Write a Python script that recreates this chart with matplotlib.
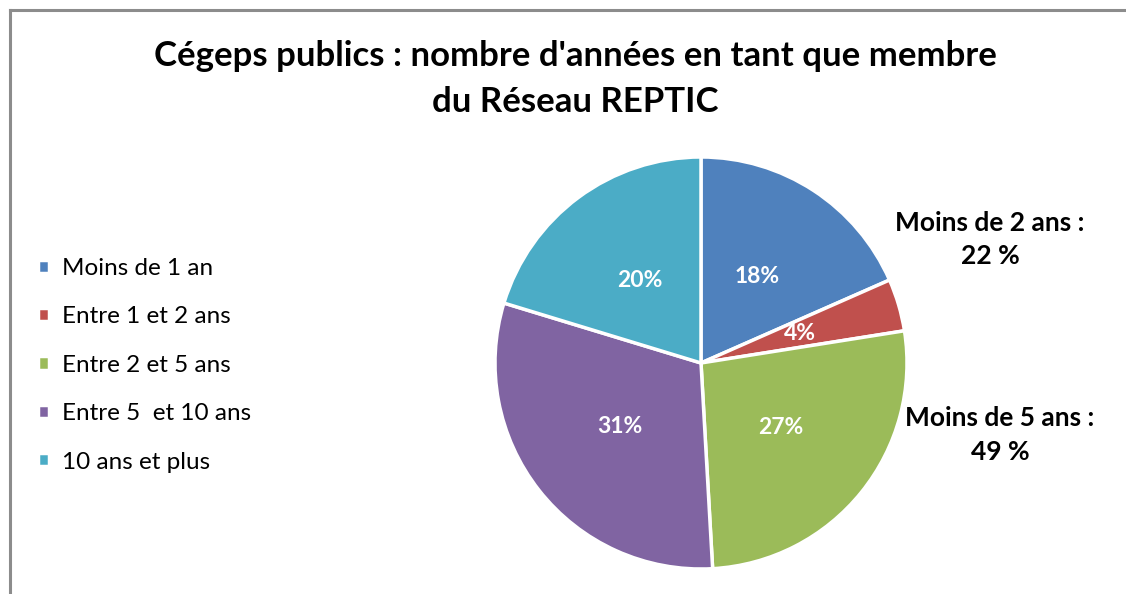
import matplotlib
matplotlib.use("Agg")
import matplotlib.pyplot as plt
from matplotlib.lines import Line2D

categories = ["Moins de 1 an", "Entre 1 et 2 ans", "Entre 2 et 5 ans",
              "Entre 5  et 10 ans", "10 ans et plus"]
shares = [18.4, 4.1, 26.6, 30.6, 20.3]
colors = ["#4F81BD", "#C0504D", "#9BBB59", "#8064A2", "#4BACC6"]
title = "Cégeps publics : nombre d'années en tant que membre\ndu Réseau REPTIC"
notes = ["Moins de 2 ans :\n22 %", "Moins de 5 ans :\n49 %"]

W, H = 1126, 594
fig = plt.figure(figsize=(W / 100, H / 100), dpi=100)
plt.rcParams["font.family"] = ["Lato", "DejaVu Sans"]

# gray frame (left and top only visible)
fig.add_artist(Line2D([10 / W, 10 / W], [0, 1 - 10 / H], color="#8c8c8c", lw=2.2))
fig.add_artist(Line2D([10 / W, 1], [1 - 10 / H, 1 - 10 / H], color="#8c8c8c", lw=2.2))

cx, cy, r = 701, 363, 206
ax = fig.add_axes([(cx - r) / W, (H - cy - r) / H, 2 * r / W, 2 * r / H])
wedges, texts, autotexts = ax.pie(
    shares, colors=colors, startangle=90, counterclock=False,
    autopct="%.0f%%", pctdistance=0.5,
    wedgeprops=dict(edgecolor="white", linewidth=2.5),
    textprops=dict(color="white", fontsize=16.5, fontweight="bold"),
)
ax.set_xlim(-1.0, 1.0)
ax.set_ylim(-1.0, 1.0)
ax.set_aspect("equal")
ax.patch.set_visible(False)

fig.text(575 / W, 1 - 79 / H, title, ha="center", va="center",
         fontsize=25, fontweight="bold", linespacing=1.5)

fig.text(990 / W, 1 - 240 / H, notes[0], ha="center", va="center",
         fontsize=19, fontweight="bold", linespacing=1.45)
fig.text(1000 / W, 1 - 435 / H, notes[1], ha="center", va="center",
         fontsize=19, fontweight="bold", linespacing=1.45)

leg = fig.legend(wedges, categories, loc="upper left",
                 bbox_to_anchor=(28 / W, 1 - 248 / H), frameon=False,
                 fontsize=17.5, handlelength=0.45, handleheight=0.45,
                 handletextpad=0.55, labelspacing=1.13, borderaxespad=0)

fig.savefig("out.png", dpi=100)
